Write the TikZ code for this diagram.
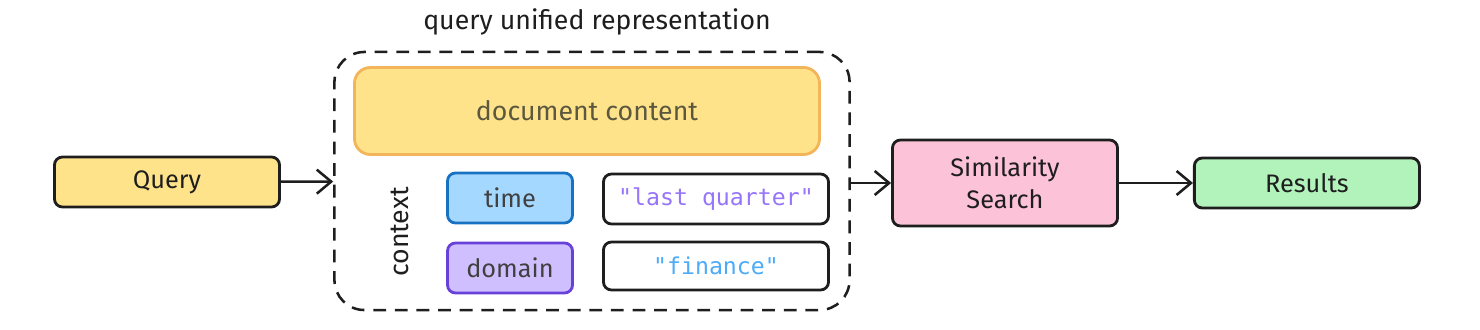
\documentclass[tikz,border=0pt]{standalone}
\usepackage{fontspec}
\setmainfont{Fira Sans}
\setmonofont{DejaVu Sans Mono}
\usepackage{xcolor}
\usepackage{tikz}
\usetikzlibrary{arrows.meta,positioning}

\definecolor{inkc}{HTML}{1E1E1E}
\definecolor{yellowfill}{HTML}{FFE38A}
\definecolor{orangeline}{HTML}{F2B55A}
\definecolor{bluefill}{HTML}{A5D8FF}
\definecolor{blueline}{HTML}{1971C2}
\definecolor{violetfill}{HTML}{D0BFFF}
\definecolor{violetline}{HTML}{6741D9}
\definecolor{pinkfill}{HTML}{FCC2D7}
\definecolor{greenfill}{HTML}{B2F2BB}
\definecolor{violettext}{HTML}{9775FA}
\definecolor{bluetext}{HTML}{4DABF7}
\definecolor{dimtext}{HTML}{5C5840}

\begin{document}
\begin{tikzpicture}[
  x=0.025cm, y=-0.025cm,
  box/.style={rectangle, rounded corners=0.2cm, draw=inkc, line width=2pt, minimum width=5.625cm, minimum height=1.25cm, align=center, text=inkc, font=\fontsize{18}{23}\selectfont},
  keybox/.style={box, minimum width=3.125cm, text=black!75},
  valbox/.style={box, fill=white, font=\ttfamily\fontsize{16.5}{20}\selectfont},
  arr/.style={-{Straight Barb[length=3.6mm, width=6mm]}, line width=1.8pt, draw=inkc}
]
\useasboundingbox (0,0) rectangle (1480,329);
\node[box, fill=yellowfill] (query) at (167,182) {Query};
\node[draw=inkc, line width=1.8pt, dash pattern=on 3.2mm off 2.2mm, rounded corners=0.75cm, minimum width=12.875cm, minimum height=6.45cm] (group) at (592,181) {};
\node[font=\fontsize{19}{22}\selectfont, text=inkc] (title) at (597,22) {query unified representation};
\node[box, fill=yellowfill, draw=orangeline, rounded corners=0.4cm, minimum width=11.625cm, minimum height=2.175cm, text=dimtext, font=\fontsize{19}{22}\selectfont] (content) at (587,111) {document content};
\node[rotate=90, font=\fontsize{19}{22}\selectfont, text=inkc] (context) at (400,232) {context};
\node[keybox, fill=bluefill, draw=blueline] (time) at (510,198) {time};
\node[keybox, fill=violetfill, draw=violetline] (domain) at (510,268) {domain};
\node[valbox, text=violettext] (quarter) at (716,199) {"last quarter"};
\node[valbox, text=bluetext, minimum height=1.2cm] (finance) at (716,266) {"finance"};
\node[box, fill=pinkfill, minimum height=2.15cm] (search) at (1005,183) {Similarity\\Search};
\node[box, fill=greenfill, right=1.85cm of search] (results) {Results};
\draw[arr] (query) -- (group);
\draw[arr] (group.east |- search) -- (search);
\draw[arr] (search) -- (results);
\end{tikzpicture}
\end{document}
